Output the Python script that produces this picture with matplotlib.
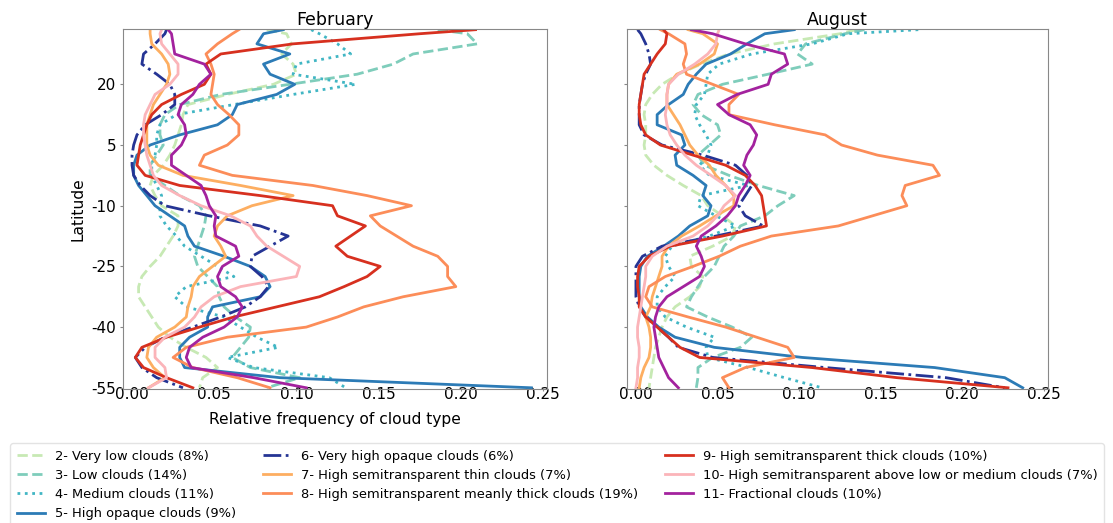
import numpy as np
import matplotlib
matplotlib.use("Agg")
import matplotlib.pyplot as plt

plt.rcParams['axes.unicode_minus'] = False

# latitude sampled from north (top of the plot) to south
lat = [33.5, 32.5, 30, 27.5, 25, 22.5, 20, 17.5, 15, 12.5,
       10, 7.5, 5, 2.5, 0, -2.5, -5, -7.5, -10, -12.5,
       -15, -17.5, -20, -22.5, -25, -27.5, -30, -32.5, -35, -37.5,
       -40, -42.5, -45, -47.5, -50, -52.5, -55]

labels = ["2- Very low clouds (8%)", "3- Low clouds (14%)", "4- Medium clouds (11%)",
          "5- High opaque clouds (9%)", "6- Very high opaque clouds (6%)",
          "7- High semitransparent thin clouds (7%)",
          "8- High semitransparent meanly thick clouds (19%)",
          "9- High semitransparent thick clouds (10%)",
          "10- High semitransparent above low or medium clouds (7%)",
          "11- Fractional clouds (10%)"]

# February relative frequency per cloud type
feb_2 = [0.082, 0.094, 0.097, 0.091, 0.098, 0.100, 0.086, 0.058, 0.034, 0.031,
         0.030, 0.028, 0.026, 0.023, 0.019, 0.013, 0.011, 0.014, 0.018, 0.028,
         0.028, 0.025, 0.021, 0.017, 0.011, 0.006, 0.004, 0.004, 0.008, 0.012,
         0.016, 0.023, 0.033, 0.045, 0.052, 0.043, 0.041]
feb_3 = [0.186, 0.204, 0.210, 0.171, 0.159, 0.137, 0.096, 0.054, 0.029, 0.020,
         0.017, 0.017, 0.019, 0.015, 0.011, 0.011, 0.020, 0.029, 0.041, 0.045,
         0.044, 0.042, 0.040, 0.038, 0.040, 0.046, 0.052, 0.053, 0.056, 0.063,
         0.072, 0.071, 0.066, 0.061, 0.072, 0.102, 0.082]
feb_4 = [0.109, 0.114, 0.125, 0.133, 0.100, 0.098, 0.136, 0.098, 0.062, 0.027,
         0.017, 0.015, 0.015, 0.014, 0.012, 0.012, 0.015, 0.018, 0.017, 0.017,
         0.021, 0.027, 0.032, 0.042, 0.052, 0.062, 0.033, 0.026, 0.033, 0.056,
         0.066, 0.076, 0.089, 0.058, 0.074, 0.120, 0.130]
feb_5 = [0.092, 0.080, 0.076, 0.096, 0.080, 0.084, 0.099, 0.088, 0.064, 0.061,
         0.052, 0.029, 0.011, 0.003, 0.001, 0.001, 0.004, 0.009, 0.014, 0.023,
         0.032, 0.034, 0.038, 0.056, 0.072, 0.081, 0.084, 0.078, 0.049, 0.046,
         0.046, 0.035, 0.029, 0.029, 0.032, 0.090, 0.243]
feb_6 = [0.021, 0.020, 0.014, 0.007, 0.006, 0.015, 0.023, 0.026, 0.026, 0.018,
         0.008, 0.003, 0.001, 0.000, 0.000, 0.001, 0.005, 0.011, 0.020, 0.047,
         0.078, 0.095, 0.084, 0.073, 0.072, 0.079, 0.083, 0.078, 0.069, 0.054,
         0.037, 0.020, 0.008, 0.002, 0.006, 0.015, 0.031]
feb_7 = [0.011, 0.011, 0.012, 0.018, 0.022, 0.023, 0.021, 0.017, 0.013, 0.011,
         0.009, 0.009, 0.009, 0.011, 0.016, 0.031, 0.066, 0.098, 0.073, 0.058,
         0.052, 0.050, 0.054, 0.057, 0.049, 0.041, 0.037, 0.036, 0.034, 0.033,
         0.026, 0.015, 0.010, 0.009, 0.013, 0.020, 0.010]
feb_8 = [0.065, 0.061, 0.052, 0.045, 0.048, 0.050, 0.049, 0.048, 0.052, 0.059,
         0.065, 0.065, 0.058, 0.044, 0.041, 0.061, 0.110, 0.143, 0.170, 0.145,
         0.151, 0.161, 0.171, 0.186, 0.192, 0.192, 0.197, 0.165, 0.141, 0.125,
         0.106, 0.058, 0.033, 0.025, 0.037, 0.064, 0.084]
feb_9 = [0.209, 0.175, 0.098, 0.054, 0.045, 0.048, 0.044, 0.030, 0.018, 0.012,
         0.009, 0.007, 0.005, 0.004, 0.003, 0.008, 0.029, 0.078, 0.122, 0.125,
         0.142, 0.133, 0.124, 0.131, 0.151, 0.143, 0.129, 0.114, 0.088, 0.062,
         0.041, 0.021, 0.006, 0.002, 0.007, 0.021, 0.037]
feb_10 = [0.018, 0.017, 0.018, 0.023, 0.028, 0.028, 0.023, 0.014, 0.011, 0.008,
          0.007, 0.007, 0.008, 0.009, 0.011, 0.013, 0.018, 0.029, 0.042, 0.060,
          0.072, 0.076, 0.082, 0.092, 0.102, 0.100, 0.066, 0.050, 0.042, 0.038,
          0.032, 0.020, 0.014, 0.014, 0.020, 0.021, 0.010]
feb_11 = [0.022, 0.024, 0.025, 0.026, 0.044, 0.048, 0.041, 0.037, 0.030, 0.028,
          0.032, 0.033, 0.030, 0.024, 0.024, 0.033, 0.042, 0.045, 0.047, 0.051,
          0.050, 0.051, 0.063, 0.065, 0.055, 0.052, 0.054, 0.063, 0.067, 0.064,
          0.056, 0.043, 0.035, 0.033, 0.036, 0.074, 0.106]

# August relative frequency per cloud type
aug_2 = [0.135, 0.125, 0.085, 0.057, 0.040, 0.026, 0.016, 0.010, 0.006, 0.005,
         0.006, 0.006, 0.005, 0.006, 0.011, 0.019, 0.029, 0.040, 0.044, 0.053,
         0.061, 0.059, 0.047, 0.033, 0.034, 0.041, 0.039, 0.033, 0.024, 0.019,
         0.016, 0.014, 0.012, 0.011, 0.010, 0.009, 0.008]
aug_3 = [0.140, 0.128, 0.104, 0.099, 0.108, 0.081, 0.053, 0.038, 0.035, 0.040,
         0.050, 0.052, 0.045, 0.038, 0.042, 0.057, 0.075, 0.097, 0.087, 0.079,
         0.064, 0.060, 0.054, 0.051, 0.048, 0.042, 0.038, 0.034, 0.031, 0.044,
         0.059, 0.071, 0.064, 0.047, 0.038, 0.038, 0.037]
aug_4 = [0.173, 0.130, 0.108, 0.071, 0.051, 0.044, 0.043, 0.042, 0.037, 0.036,
         0.039, 0.043, 0.046, 0.044, 0.039, 0.045, 0.069, 0.040, 0.038, 0.049,
         0.061, 0.045, 0.022, 0.018, 0.020, 0.024, 0.018, 0.013, 0.013, 0.018,
         0.031, 0.048, 0.043, 0.044, 0.069, 0.091, 0.114]
aug_5 = [0.097, 0.079, 0.068, 0.058, 0.043, 0.037, 0.032, 0.029, 0.020, 0.013,
         0.013, 0.028, 0.030, 0.024, 0.025, 0.035, 0.043, 0.041, 0.046, 0.044,
         0.033, 0.026, 0.017, 0.007, 0.003, 0.002, 0.002, 0.002, 0.003, 0.007,
         0.014, 0.024, 0.048, 0.102, 0.183, 0.226, 0.237]
aug_6 = [0.001, 0.003, 0.006, 0.008, 0.009, 0.006, 0.004, 0.003, 0.002, 0.002,
         0.002, 0.005, 0.016, 0.041, 0.061, 0.068, 0.071, 0.067, 0.063, 0.067,
         0.078, 0.049, 0.016, 0.004, 0.000, 0.000, 0.000, 0.000, 0.002, 0.006,
         0.013, 0.020, 0.026, 0.047, 0.116, 0.190, 0.226]
aug_7 = [0.032, 0.041, 0.050, 0.048, 0.039, 0.025, 0.020, 0.019, 0.019, 0.023,
         0.027, 0.030, 0.033, 0.038, 0.045, 0.049, 0.055, 0.060, 0.060, 0.049,
         0.039, 0.028, 0.020, 0.016, 0.016, 0.014, 0.012, 0.010, 0.009, 0.006,
         0.008, 0.009, 0.009, 0.008, 0.005, 0.003, 0.002]
aug_8 = [0.015, 0.020, 0.030, 0.031, 0.029, 0.031, 0.047, 0.063, 0.057, 0.057,
         0.085, 0.116, 0.126, 0.148, 0.182, 0.186, 0.165, 0.163, 0.166, 0.145,
         0.124, 0.083, 0.064, 0.051, 0.035, 0.018, 0.008, 0.006, 0.010, 0.032,
         0.055, 0.074, 0.093, 0.097, 0.067, 0.053, 0.057]
aug_9 = [0.017, 0.019, 0.018, 0.013, 0.009, 0.005, 0.004, 0.003, 0.002, 0.002,
         0.003, 0.006, 0.015, 0.035, 0.055, 0.067, 0.073, 0.077, 0.078, 0.079,
         0.080, 0.053, 0.021, 0.008, 0.002, 0.001, 0.001, 0.002, 0.002, 0.006,
         0.013, 0.020, 0.027, 0.039, 0.108, 0.160, 0.228]
aug_10 = [0.051, 0.050, 0.049, 0.044, 0.036, 0.026, 0.020, 0.019, 0.019, 0.018,
          0.019, 0.021, 0.025, 0.030, 0.037, 0.046, 0.055, 0.061, 0.054, 0.050,
          0.044, 0.035, 0.019, 0.010, 0.006, 0.006, 0.005, 0.004, 0.003, 0.002,
          0.001, 0.001, 0.002, 0.002, 0.001, 0.001, 0.000]
aug_11 = [0.034, 0.047, 0.067, 0.091, 0.093, 0.083, 0.081, 0.062, 0.050, 0.057,
          0.070, 0.074, 0.072, 0.068, 0.066, 0.070, 0.067, 0.063, 0.061, 0.056,
          0.049, 0.040, 0.037, 0.040, 0.042, 0.039, 0.029, 0.019, 0.014, 0.012,
          0.011, 0.012, 0.013, 0.014, 0.017, 0.020, 0.026]

feb = [feb_2, feb_3, feb_4, feb_5, feb_6, feb_7, feb_8, feb_9, feb_10, feb_11]
aug = [aug_2, aug_3, aug_4, aug_5, aug_6, aug_7, aug_8, aug_9, aug_10, aug_11]

colors = ['#c7e9b4', '#7fcdbb', '#41b6c4', '#2c7bb6', '#253494',
          '#fdae61', '#fc8d59', '#d7301f', '#fbb4b9', '#a3229e']
styles = ['--', '--', ':', '-', '-.', '-', '-', '-', '-', '-']

fig = plt.figure(figsize=(11.13, 5.23), dpi=100)
ax1 = fig.add_axes([0.1105, 0.2562, 0.381, 0.6878])
ax2 = fig.add_axes([0.5633, 0.2562, 0.3783, 0.6878], sharey=ax1)

for ax, series, title in [(ax1, feb, 'February'), (ax2, aug, 'August')]:
    for vals, c, ls, lab in zip(series, colors, styles, labels):
        ax.plot(vals, lat, color=c, linestyle=ls, lw=2, label=lab,
                solid_joinstyle='round', dash_joinstyle='round')
    ax.set_title(title, fontsize=12.5, pad=3)
    ax.set_xlim(-0.0055, 0.2525)
    ax.set_xticks([0, 0.05, 0.10, 0.15, 0.20, 0.25])
    ax.set_xticklabels(['0.00', '0.05', '0.10', '0.15', '0.20', '0.25'])
    ax.tick_params(labelsize=11, color='#888888')
    ax.tick_params(axis='x', length=1.5, pad=-2.8)
    ax.tick_params(axis='y', length=2, pad=3)
    for sp in ax.spines.values():
        sp.set_color('#888888')

ax1.set_ylim(-55.3, 33.6)
ax1.set_yticks([-55, -40, -25, -10, 5, 20])
ax1.set_ylabel('Latitude', fontsize=11.2)
ax1.set_xlabel('Relative frequency of cloud type', fontsize=11.2, labelpad=7)
plt.setp(ax2.get_yticklabels(), visible=False)

handles, labs = ax1.get_legend_handles_labels()
fig.legend(handles, labs, loc='upper left', bbox_to_anchor=(0.009, 0.153),
           ncol=3, fontsize=9.4, frameon=True, edgecolor='#dddddd',
           borderaxespad=0, borderpad=0.5, labelspacing=0.48,
           handlelength=2.2, handletextpad=0.72, columnspacing=2.05)

plt.savefig('out.png', dpi=100)
